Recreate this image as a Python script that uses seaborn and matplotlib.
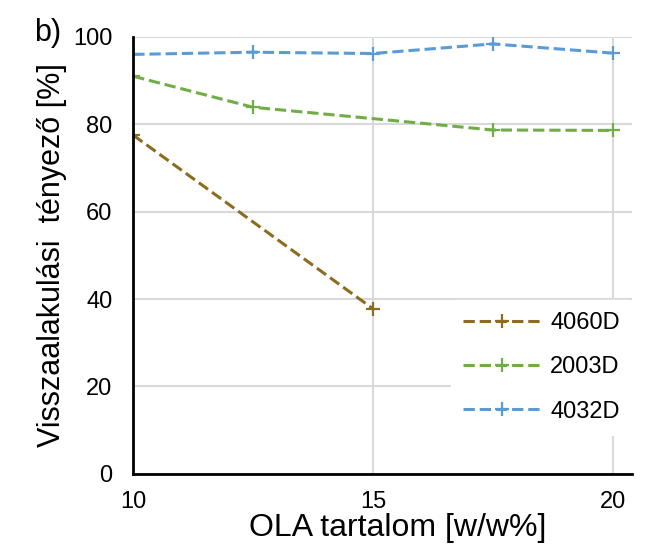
import matplotlib
matplotlib.use("Agg")
import matplotlib.pyplot as plt
import seaborn as sns
import pandas as pd

# OLA content [w/w%] and recovery factor [%] per grade
x_4060 = [10, 15]
y_4060 = [77.5, 37.8]

x_2003 = [10, 12.5, 17.5, 20]
y_2003 = [91.0, 83.9, 78.7, 78.6]

x_4032 = [10, 12.5, 15, 17.5, 20]
y_4032 = [96.0, 96.5, 96.2, 98.4, 96.3]

series = [
    ("4060D", x_4060, y_4060, "#8c6d1f"),
    ("2003D", x_2003, y_2003, "#70ad47"),
    ("4032D", x_4032, y_4032, "#5b9bd5"),
]

sns.set_style("white")
plt.rcParams["font.family"] = ["Liberation Sans", "DejaVu Sans"]
plt.rcParams["text.color"] = "black"

fig = plt.figure(figsize=(6.5, 5.51), dpi=100)
ax = fig.add_axes([0.205, 0.14, 0.767, 0.793])

for name, xs, ys, color in series:
    df = pd.DataFrame({"x": xs, "y": ys})
    sns.lineplot(data=df, x="x", y="y", ax=ax, color=color, linestyle="--",
                 dashes=(2.8, 1.4), linewidth=2.2, marker="+", markersize=10,
                 markeredgewidth=1.6, markeredgecolor=color, label=name)

ax.set_xlim(10, 20.4)
ax.set_ylim(0, 100)
ax.set_xticks([10, 15, 20])
ax.set_yticks([0, 20, 40, 60, 80, 100])
ax.grid(True, color="#d9d9d9", linewidth=1.5)
ax.set_axisbelow(True)
ax.tick_params(axis="y", length=0, labelsize=17, pad=15, labelcolor="black")
ax.tick_params(axis="x", length=0, labelsize=17, pad=12, labelcolor="black")
for s in ["top", "right"]:
    ax.spines[s].set_visible(False)
for s in ["left", "bottom"]:
    ax.spines[s].set_color("black")
    ax.spines[s].set_linewidth(2)

ax.set_xlabel("OLA tartalom [w/w%]", fontsize=23, labelpad=0, color="black")
ax.xaxis.set_label_coords(0.53, -0.09)
ax.set_ylabel("Visszaalakulási  tényező [%]", fontsize=22, labelpad=4,
              color="black")

leg = ax.legend(loc="lower right", bbox_to_anchor=(1.0, 0.09), frameon=True,
                fontsize=17, handlelength=3.3, labelspacing=0.95,
                borderpad=0.5, handletextpad=0.4, borderaxespad=0)
leg.get_frame().set_edgecolor("white")
leg.get_frame().set_facecolor("white")
leg.get_frame().set_alpha(1)
for t in leg.get_texts():
    t.set_color("black")

fig.text(0.053, 0.925, "b)", fontsize=22)

fig.savefig("out.png", dpi=100)
